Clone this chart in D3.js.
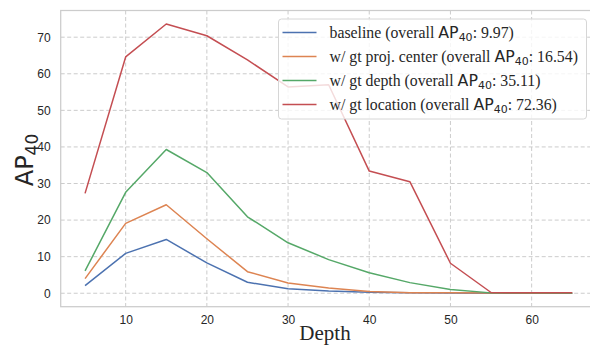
<!DOCTYPE html>
<html>
<head>
<meta charset="utf-8">
<script src="https://cdn.jsdelivr.net/npm/d3@7"></script>
<style>
  body { margin: 0; background: #fff; }
  svg { display: block; }
</style>
</head>
<body>
<div id="chart"></div>
<script>
// data
var depths = [5, 10, 15, 20, 25, 30, 35, 40, 45, 50, 55, 60, 65];
var baseline = [2.1, 10.9, 14.7, 8.3, 3.0, 1.2, 0.6, 0.3, 0.1, 0.05, 0.02, 0.0, 0.0];
var projCenter = [4.0, 19.1, 24.2, 14.9, 5.9, 2.8, 1.4, 0.5, 0.15, 0.1, 0.05, 0.02, 0.0];
var gtDepth = [6.1, 27.6, 39.3, 33.0, 20.9, 13.8, 9.2, 5.6, 2.9, 1.0, 0.1, 0.05, 0.0];
var gtLocation = [27.3, 64.6, 73.6, 70.4, 63.8, 56.4, 57.0, 33.4, 30.5, 8.2, 0.2, 0.1, 0.1];
var seriesNames = ["baseline", "w/ gt proj. center", "w/ gt depth", "w/ gt location"];
var overallAP = ["9.97", "16.54", "35.11", "72.36"];
var yTicks = [0, 10, 20, 30, 40, 50, 60, 70];
var xTicks = [10, 20, 30, 40, 50, 60];

var colors = ["#4C72B0", "#DD8452", "#55A868", "#C44E52"];
var allSeries = [baseline, projCenter, gtDepth, gtLocation];

//Define Margin
var W = 590, H = 345;
var margin = {left: 60.7, top: 10.5, right: -6.6, bottom: 38.3};
var width = W - margin.left - margin.right,
    height = H - margin.top - margin.bottom;

var svg = d3.select("div#chart").append("svg")
    .attr("width", W)
    .attr("height", H);

var g = svg.append("g")
    .attr("transform", "translate(" + margin.left + "," + margin.top + ")");

//Define Scales (matplotlib style 5% margins)
var xScale = d3.scaleLinear().domain([2, 68]).range([0, width]);
var yScale = d3.scaleLinear().domain([-3.68, 77.3]).range([height, 0]);

//Grid
g.append("g").selectAll("line.gy")
    .data(yTicks).enter().append("line")
    .attr("x1", 0).attr("x2", width)
    .attr("y1", function(d) { return yScale(d); })
    .attr("y2", function(d) { return yScale(d); })
    .attr("stroke", "#cccccc").attr("stroke-width", 1)
    .attr("stroke-dasharray", "4,2.5");
g.append("g").selectAll("line.gx")
    .data(xTicks).enter().append("line")
    .attr("y1", 0).attr("y2", height)
    .attr("x1", function(d) { return xScale(d); })
    .attr("x2", function(d) { return xScale(d); })
    .attr("stroke", "#cccccc").attr("stroke-width", 1)
    .attr("stroke-dasharray", "4,2.5");

//Spines
g.append("rect")
    .attr("x", 0).attr("y", 0)
    .attr("width", width).attr("height", height)
    .attr("fill", "none")
    .attr("stroke", "#cccccc").attr("stroke-width", 1.25);

//Axes
var xAxis = d3.axisBottom(xScale).tickValues(xTicks).tickSize(0).tickPadding(10);
var yAxis = d3.axisLeft(yScale).tickValues(yTicks).tickSize(0).tickPadding(10);

var gx = g.append("g")
    .attr("transform", "translate(0," + height + ")")
    .call(xAxis);
var gy = g.append("g").call(yAxis);
[gx, gy].forEach(function(a) {
    a.select(".domain").remove();
    a.selectAll("text")
        .attr("fill", "#262626")
        .style("font-family", "'Liberation Sans', Arial, sans-serif")
        .style("font-size", "12px");
});
gx.selectAll("text").attr("dy", "0.65em");

//Lines
var line = d3.line()
    .x(function(d, i) { return xScale(depths[i]); })
    .y(function(d) { return yScale(d); });

allSeries.forEach(function(s, k) {
    g.append("path")
        .datum(s)
        .attr("fill", "none")
        .attr("stroke", colors[k])
        .attr("stroke-width", 1.5)
        .attr("stroke-linejoin", "round")
        .attr("d", line);
});

//Axis labels
svg.append("text")
    .attr("x", 325)
    .attr("y", 340)
    .attr("text-anchor", "middle")
    .attr("fill", "#262626")
    .style("font-family", "'Liberation Serif', 'Times New Roman', serif")
    .style("font-size", "21px")
    .text("Depth");

var ylab = svg.append("text")
    .attr("transform", "translate(33,160) rotate(-90)")
    .attr("text-anchor", "middle")
    .attr("fill", "#262626")
    .style("font-family", "'DejaVu Sans', sans-serif")
    .style("font-size", "24px");
ylab.append("tspan").text("AP");
ylab.append("tspan").attr("dy", 5).style("font-size", "17px").text("40");

//Legend
var leg = svg.append("g").attr("transform", "translate(278.5,19)");
leg.append("rect")
    .attr("width", 308).attr("height", 100)
    .attr("rx", 3).attr("ry", 3)
    .attr("fill", "#ffffff").attr("fill-opacity", 0.8)
    .attr("stroke", "#d6d6d6").attr("stroke-width", 1);

seriesNames.forEach(function(name, k) {
    var yy = 13.5 + k * 24;
    leg.append("line")
        .attr("x1", 4).attr("x2", 38)
        .attr("y1", yy).attr("y2", yy)
        .attr("stroke", colors[k]).attr("stroke-width", 1.5);
    var t = leg.append("text")
        .attr("x", 51).attr("y", yy + 5)
        .attr("fill", "#262626")
        .style("font-family", "'Liberation Serif', 'Times New Roman', serif")
        .style("font-size", "15.8px");
    t.append("tspan").text(name + " (overall ");
    t.append("tspan").style("font-family", "'DejaVu Sans', sans-serif").text("AP");
    t.append("tspan").attr("dy", 3).style("font-family", "'DejaVu Sans', sans-serif")
        .style("font-size", "11px").text("40");
    t.append("tspan").attr("dy", -3).text(": " + overallAP[k] + ")");
});
</script>
</body>
</html>
